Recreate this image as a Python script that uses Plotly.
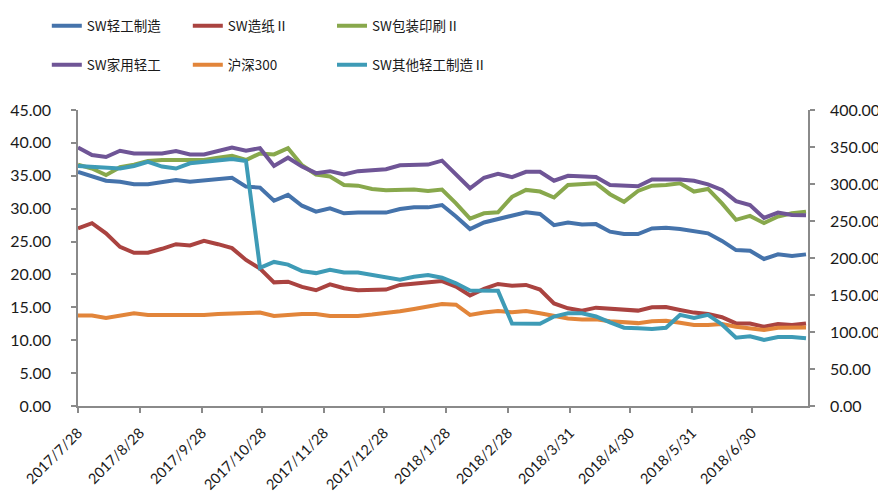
import pandas as pd
import plotly.graph_objects as go

dates = pd.date_range("2017-07-28", periods=53, freq="7D")

tick_dates = ["2017-07-28", "2017-08-28", "2017-09-28", "2017-10-28", "2017-11-28",
              "2017-12-28", "2018-01-28", "2018-02-28", "2018-03-31", "2018-04-30",
              "2018-05-31", "2018-06-30"]
tick_labels = ["2017/7/28", "2017/8/28", "2017/9/28", "2017/10/28", "2017/11/28",
               "2017/12/28", "2018/1/28", "2018/2/28", "2018/3/31", "2018/4/30",
               "2018/5/31", "2018/6/30"]

qinggong = [35.6, 35.0, 34.25, 34.1, 33.7, 33.7, 33.95, 34.35, 34.1, 34.35, 34.5, 34.7, 33.35,
            33.2, 31.2, 32.1, 30.45, 29.55, 30.05, 29.3, 29.4, 29.4, 29.4, 29.95, 30.2, 30.2,
            30.55, 28.8, 26.9, 27.9, 28.4, 28.8, 29.45, 29.2, 27.5, 27.9, 27.6, 27.65, 26.5,
            26.15, 26.15, 27.0, 27.1, 26.9, 26.5, 26.25, 25.1, 23.7, 23.6, 22.35, 23.05, 22.8, 23.05]

zaozhi = [27.0, 27.8, 26.25, 24.2, 23.3, 23.3, 23.9, 24.6, 24.4, 25.1, 24.6, 24.0, 22.2,
          20.9, 18.8, 18.9, 18.1, 17.6, 18.5, 17.9, 17.6, 17.7, 17.7, 18.4, 18.65, 18.9,
          19.0, 18.15, 16.8, 17.8, 18.55, 18.3, 18.4, 17.7, 15.6, 14.85, 14.5, 14.95, 14.8,
          14.8, 14.5, 15.0, 15.05, 14.6, 14.2, 14.0, 13.5, 12.55, 12.55, 12.05, 12.45, 12.3, 12.55]

baozhuang = [36.7, 36.1, 35.1, 36.3, 36.7, 37.25, 37.4, 37.4, 37.25, 37.4, 37.75, 38.05, 37.4,
             38.4, 38.25, 39.2, 36.6, 35.2, 34.9, 33.6, 33.5, 33.0, 32.8, 32.9, 32.9, 32.7,
             32.9, 30.8, 28.5, 29.3, 29.45, 31.8, 32.85, 32.6, 31.7, 33.6, 33.7, 33.85, 32.2,
             31.05, 32.7, 33.5, 33.6, 33.85, 32.6, 33.0, 30.8, 28.3, 28.9, 27.8, 28.8, 29.3, 29.55]

jiayong = [39.3, 38.15, 37.85, 38.8, 38.4, 38.4, 38.4, 38.75, 38.25, 38.25, 38.8, 39.3, 38.8,
           39.2, 36.5, 37.75, 36.4, 35.4, 35.7, 35.2, 35.7, 35.9, 36.0, 36.6, 36.7, 36.7,
           37.3, 35.2, 33.1, 34.7, 35.3, 34.8, 35.6, 35.6, 34.25, 35.0, 34.85, 34.8, 33.6,
           33.45, 33.4, 34.45, 34.5, 34.45, 34.25, 33.7, 32.85, 31.15, 30.55, 28.6, 29.4, 29.05, 29.0]

hs300 = [13.75, 13.75, 13.4, 13.7, 14.1, 13.85, 13.85, 13.75, 13.85, 13.85, 14.0, 14.1, 14.2,
         14.2, 13.7, 13.9, 14.0, 14.0, 13.7, 13.7, 13.7, 13.9, 14.1, 14.4, 14.75, 15.15,
         15.5, 15.4, 13.85, 14.2, 14.45, 14.25, 14.45, 14.1, 13.7, 13.3, 13.15, 13.2, 12.9,
         12.7, 12.6, 12.9, 12.95, 12.65, 12.3, 12.3, 12.45, 12.05, 11.8, 11.55, 11.9, 11.9, 11.95]

# secondary (right) axis
qita = [324.4, 323.6, 322.7, 320.9, 324.4, 329.8, 323.6, 320.9, 328.0, 329.8, 332.4, 333.8, 331.1,
        186.7, 194.7, 191.1, 182.2, 179.6, 184.0, 180.4, 180.4, 176.9, 173.3, 170.7, 174.7, 176.9,
        173.3, 165.8, 156.0, 155.6, 155.6, 111.6, 111.6, 111.1, 120.9, 125.3, 125.3, 120.9, 112.9,
        105.8, 104.9, 104.0, 105.8, 123.1, 119.1, 123.1, 110.2, 92.4, 94.2, 89.3, 93.3, 93.3, 91.6]

names = ["SW轻工制造", "SW造纸Ⅱ", "SW包装印刷Ⅱ", "SW家用轻工", "沪深300", "SW其他轻工制造Ⅱ"]
colors = ["#4573AB", "#AA4340", "#88A84C", "#6F5596", "#E2853A", "#3E9BB6"]
series = [qinggong, zaozhi, baozhuang, jiayong, hs300, qita]
axes = ["y", "y", "y", "y", "y", "y2"]
legends = ["legend", "legend", "legend3", "legend2", "legend2", "legend4"]

fig = go.Figure()
for n, c, s, a, lg in zip(names, colors, series, axes, legends):
    fig.add_trace(go.Scatter(x=dates, y=s, name=n, mode="lines", yaxis=a, legend=lg,
                             line=dict(color=c, width=4)))

tickfont = dict(family="Lato, Noto Sans CJK SC, sans-serif", size=16, color="#1a1a1a")
xtickfont = dict(family="Lato, Noto Sans CJK SC, sans-serif", size=14.5, color="#1a1a1a")
legfont = dict(family="Noto Sans CJK SC, sans-serif", size=13.5, color="#1a1a1a")
axcol = "#8a8a8a"

common = dict(showgrid=False, zeroline=False, showline=True, linecolor=axcol, linewidth=1.5,
              ticks="outside", tickcolor=axcol, ticklen=5, tickwidth=1.5,
              automargin=False)

leg = dict(orientation="h", xref="container", yref="container", xanchor="left",
           yanchor="middle", font=legfont, itemwidth=30, bgcolor="rgba(0,0,0,0)")
row1, row2 = 0.9634, 0.884
col1, col2 = 0.0438, 0.3657

fig.update_layout(
    width=886, height=492,
    margin=dict(l=70, r=86, t=102, b=94),
    plot_bgcolor="white", paper_bgcolor="white",
    xaxis=dict(type="date", range=["2017-07-28", "2018-07-28"], tickvals=tick_dates,
               ticktext=tick_labels, tickangle=-45, ticklabelstandoff=6, tickfont=xtickfont,
               **common),
    yaxis=dict(range=[0, 45], dtick=5, tickformat=".2f", ticklabelstandoff=17,
               tickfont=tickfont, **common),
    yaxis2=dict(range=[0, 400], dtick=50, tickformat=".2f", overlaying="y", side="right",
                ticklabelstandoff=12, tickfont=tickfont, **common),
    legend=dict(x=col1, y=row1, entrywidth=96, entrywidthmode="pixels", **leg),
    legend2=dict(x=col1, y=row2, entrywidth=96, entrywidthmode="pixels", **leg),
    legend3=dict(x=col2, y=row1, **leg),
    legend4=dict(x=col2, y=row2, **leg),
)

fig.write_html("out.html")
